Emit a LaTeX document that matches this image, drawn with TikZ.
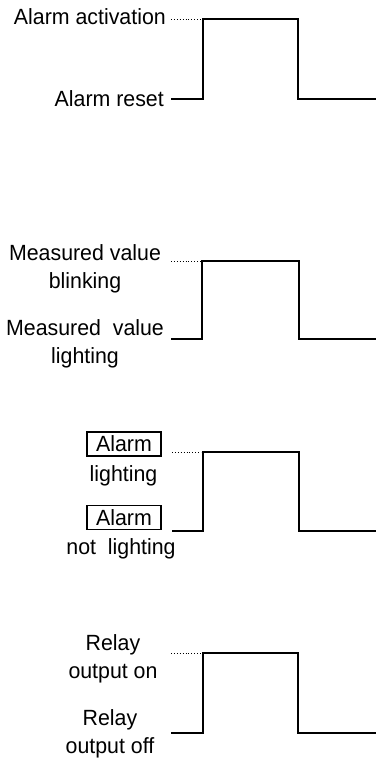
\documentclass[tikz,border=0pt]{standalone}
\usepackage{fontspec}
\setmainfont[FakeStretch=0.97]{Liberation Sans}
\begin{document}
\begin{tikzpicture}[x=1pt,y=-1pt,
  lbl/.style={font=\fontsize{22}{28}\selectfont, inner sep=0pt, align=center},
  boxlbl/.style={lbl, draw, line width=1.2pt, minimum width=74pt, minimum height=24pt},
  wave/.style={line width=2.7pt, line join=miter},
  guide/.style={line width=0.9pt, dotted}]
\useasboundingbox (0,0) rectangle (376,758);
% ---- waveform 1
\node[lbl, anchor=east] (a1) at (166,17) {Alarm activation};
\node[lbl, anchor=east] (a2) at (164,99) {Alarm reset};
\coordinate (a1s) at (171,19);
\coordinate (a1e) at (201,19);
\draw[guide] (a1s) -- (a1e);
\coordinate (w1a) at (171,99);
\draw[wave] (w1a) -- (203,99) -- (203,19) -- (298,19) -- (298,99) -- (376,99);
% ---- waveform 2
\node[lbl] (b1) at (85,268.5) {Measured value\\blinking};
\node[lbl] (b2) at (85,343.5) {Measured\ \ value\\lighting};
\coordinate (b1s) at (171,261);
\coordinate (b1e) at (201,261);
\draw[guide] (b1s) -- (b1e);
\coordinate (w2a) at (171,339);
\draw[wave] (w2a) -- (202,339) -- (202,261) -- (299,261) -- (299,339) -- (376,339);
% ---- waveform 3
\node[boxlbl] (c1) at (124,444) {Alarm};
\node[lbl] (c1t) at (123.5,475.5) {lighting};
\node[boxlbl] (c2) at (124,517.5) {Alarm};
\node[lbl] (c2t) at (121,548.5) {not\ \ lighting};
\coordinate (c1s) at (172,452);
\coordinate (c1e) at (201,452);
\draw[guide] (c1s) -- (c1e);
\coordinate (w3a) at (172,531);
\draw[wave] (w3a) -- (203,531) -- (203,452) -- (299,452) -- (299,531) -- (376,531);
% ---- waveform 4
\node[lbl] (d1) at (113,658.5) {Relay\\output on};
\node[lbl] (d2) at (110,734) {Relay\\output off};
\coordinate (d1s) at (171,653);
\coordinate (d1e) at (201,653);
\draw[guide] (d1s) -- (d1e);
\coordinate (w4a) at (171,733);
\draw[wave] (w4a) -- (203,733) -- (203,653) -- (298,653) -- (298,733) -- (376,733);
\end{tikzpicture}
\end{document}
